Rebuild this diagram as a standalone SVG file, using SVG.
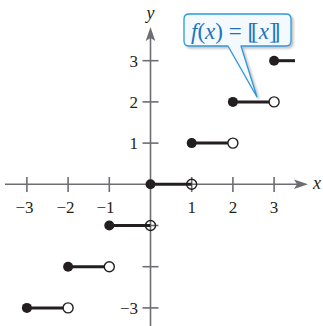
<svg xmlns="http://www.w3.org/2000/svg" width="323" height="326" viewBox="0 0 323 326">
<defs>
<style>
.ax{stroke:#6d6e71;stroke-width:1.6;fill:none}
.tk{stroke:#6d6e71;stroke-width:1.6}
.lbl{font-family:"Liberation Serif","Times New Roman",serif;font-size:17px;fill:#231f20}
.seg{stroke:#231f20;stroke-width:3;stroke-linecap:butt}
.fd{fill:#231f20}
.od{fill:#fff;stroke:#231f20;stroke-width:1.4}
.oc{fill:none;stroke:#231f20;stroke-width:1.4}
.arr{fill:#6d6e71}
</style>
<filter id="sh" x="-10%" y="-10%" width="130%" height="140%"><feDropShadow dx="2" dy="2" stdDeviation="1.2" flood-color="#999" flood-opacity="0.6"/></filter>
</defs>
<rect width="323" height="326" fill="#fff"/>
<g id="axes">
<line class="ax" x1="5" y1="184.3" x2="298" y2="184.3"/>
<polygon class="arr" points="308,184.3 294,179.5 297,184.3 294,189.1"/>
<line class="ax" x1="150.5" y1="326" x2="150.5" y2="36"/>
<polygon class="arr" points="150.5,27 145.7,41 150.5,38 155.3,41"/>
<g class="tk">
<line x1="26.9" y1="177" x2="26.9" y2="192"/>
<line x1="68.1" y1="177" x2="68.1" y2="192"/>
<line x1="109.3" y1="177" x2="109.3" y2="192"/>
<line x1="191.7" y1="177" x2="191.7" y2="192"/>
<line x1="232.9" y1="177" x2="232.9" y2="192"/>
<line x1="274.1" y1="177" x2="274.1" y2="192"/>
<line x1="142.5" y1="60.7" x2="158.5" y2="60.7"/>
<line x1="142.5" y1="101.9" x2="158.5" y2="101.9"/>
<line x1="142.5" y1="143.1" x2="158.5" y2="143.1"/>
<line x1="142.5" y1="225.5" x2="158.5" y2="225.5"/>
<line x1="142.5" y1="266.7" x2="158.5" y2="266.7"/>
<line x1="142.5" y1="307.9" x2="158.5" y2="307.9"/>
</g>
<g class="lbl">
<text x="33.5" y="212.5" text-anchor="end">−3</text>
<text x="74.5" y="212.5" text-anchor="end">−2</text>
<text x="114.5" y="212.5" text-anchor="end">−1</text>
<text x="191.7" y="212.5" text-anchor="middle">1</text>
<text x="232.9" y="212.5" text-anchor="middle">2</text>
<text x="274.1" y="212.5" text-anchor="middle">3</text>
<text x="138" y="66.5" text-anchor="end">3</text>
<text x="138" y="107.5" text-anchor="end">2</text>
<text x="138" y="148.5" text-anchor="end">1</text>
<text x="138" y="313.5" text-anchor="end">−3</text>
<text x="150.5" y="19" text-anchor="middle" font-style="italic" font-size="18">y</text>
<text x="317" y="189" text-anchor="middle" font-style="italic" font-size="18">x</text>
</g>
</g>
<g id="connectors">
<line class="seg" x1="26.9" y1="307.9" x2="68.1" y2="307.9"/>
<line class="seg" x1="68.1" y1="266.7" x2="109.3" y2="266.7"/>
<line class="seg" x1="109.3" y1="225.5" x2="150.5" y2="225.5"/>
<line class="seg" x1="150.5" y1="184.3" x2="191.7" y2="184.3"/>
<line class="seg" x1="191.7" y1="143.1" x2="232.9" y2="143.1"/>
<line class="seg" x1="232.9" y1="101.9" x2="274.1" y2="101.9"/>
<line class="seg" x1="274.1" y1="60.7" x2="295" y2="60.7"/>
</g>
<g id="step-n3"><circle class="fd" cx="26.9" cy="307.9" r="5"/><circle class="od" cx="68.1" cy="307.9" r="5"/></g>
<g id="step-n2"><circle class="fd" cx="68.1" cy="266.7" r="5"/><circle class="od" cx="109.3" cy="266.7" r="5"/></g>
<g id="step-n1"><circle class="fd" cx="109.3" cy="225.5" r="5"/><circle class="oc" cx="150.5" cy="225.5" r="5"/></g>
<g id="step-0"><circle class="fd" cx="150.5" cy="184.3" r="5"/><circle class="oc" cx="191.7" cy="184.3" r="5"/></g>
<g id="step-1"><circle class="fd" cx="191.7" cy="143.1" r="5"/><circle class="od" cx="232.9" cy="143.1" r="5"/></g>
<g id="step-2"><circle class="fd" cx="232.9" cy="101.9" r="5"/><circle class="od" cx="274.1" cy="101.9" r="5"/></g>
<g id="step-3"><circle class="fd" cx="274.1" cy="60.7" r="5"/></g>
<g id="callout">
<path d="M189,14 H286 Q291,14 291,19 V41 Q291,46 286,46 H241 L257,97 L228,46 H189 Q184,46 184,41 V19 Q184,14 189,14 Z" fill="#f3f9fd" stroke="#2a9ad6" stroke-width="1.3" stroke-linejoin="round" filter="url(#sh)"/>
<text x="191" y="38.5" font-family="Liberation Serif,'Times New Roman',serif" font-size="23" fill="#1b75bc"><tspan font-style="italic">f</tspan>(<tspan font-style="italic">x</tspan>) = <tspan letter-spacing="-4">[</tspan>[<tspan font-style="italic">x</tspan><tspan letter-spacing="-4">]</tspan>]</text>
</g>
</svg>
